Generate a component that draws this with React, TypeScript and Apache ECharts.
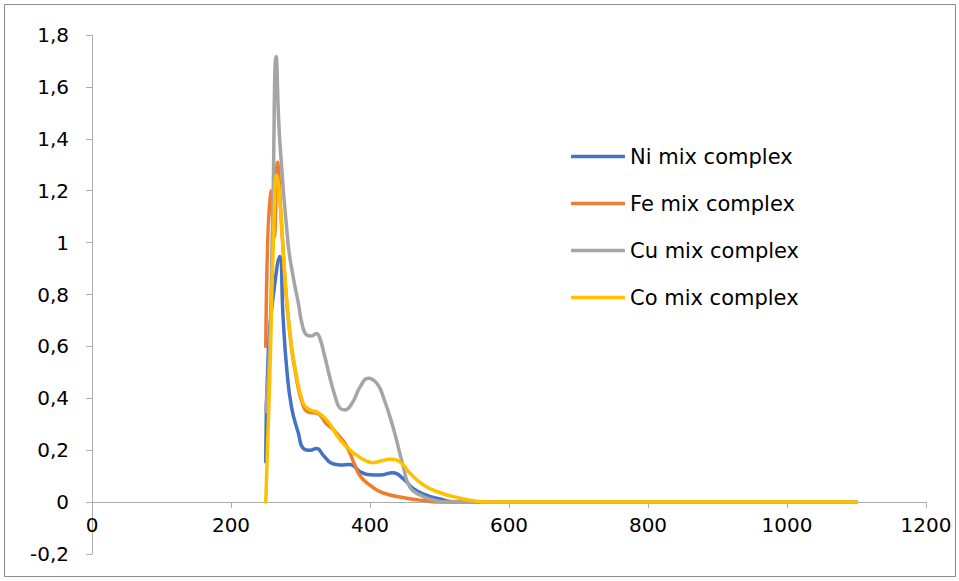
import React, { useEffect, useRef } from "react";
import * as echarts from "echarts";

const seriesNames = ["Ni mix complex", "Fe mix complex", "Cu mix complex", "Co mix complex"];
const seriesColors = ["#4472C4", "#ED7D31", "#A5A5A5", "#FFC000"];

const niData: number[][] = [
  [250, 0.155], [254, 0.6], [262, 0.82], [270, 0.946], [275, 0.71], [280, 0.52], [287, 0.367],
  [297, 0.265], [304, 0.207], [314, 0.2], [323, 0.207], [333, 0.18], [345, 0.149], [357, 0.143],
  [371, 0.145], [386, 0.117], [400, 0.105], [414, 0.104], [433, 0.113], [448, 0.09], [462, 0.053],
  [481, 0.027], [501, 0.012], [515, 0.002], [530, 0], [600, 0], [1100, 0],
];

const feData: number[][] = [
  [250, 0.6], [257, 1.2], [262, 1.02], [267, 1.31], [271, 1.15], [275, 0.97], [280, 0.78],
  [286, 0.62], [292, 0.51], [304, 0.37], [314, 0.345], [323, 0.343], [338, 0.3], [347, 0.28],
  [357, 0.25], [364, 0.226], [371, 0.19], [377, 0.15], [386, 0.1], [400, 0.065], [418, 0.036],
  [453, 0.015], [480, 0.005], [500, 0], [600, 0], [1100, 0],
];

const cuData: number[][] = [
  [250, 0.35], [255, 0.56], [260, 1.1], [265, 1.717], [270, 1.4], [282, 1.0], [290, 0.86],
  [297, 0.766], [302, 0.689], [309, 0.644], [316, 0.64], [323, 0.65], [328, 0.63], [335, 0.56],
  [342, 0.483], [350, 0.406], [357, 0.361], [364, 0.355], [374, 0.38], [386, 0.445],
  [397.5, 0.477], [410, 0.457], [419, 0.406], [433, 0.29], [448, 0.136], [457, 0.059],
  [472, 0.027], [491, 0.008], [510, 0], [600, 0], [1100, 0],
];

const coData: number[][] = [
  [250, 0], [256, 0.5], [261, 1.0], [266, 1.26], [270.5, 1.16], [275, 0.97], [280, 0.78],
  [286, 0.62], [292, 0.52], [304, 0.38], [314, 0.355], [323, 0.348], [338, 0.316], [357, 0.24],
  [376, 0.19], [395, 0.158], [405, 0.152], [418, 0.16], [429, 0.165], [443, 0.155], [458, 0.11],
  [477, 0.066], [501, 0.036], [525, 0.018], [554, 0.003], [570, 0], [600, 0], [1100, 0],
];

const allData = [niData, feData, cuData, coData];

const xMin = 0;
const xMax = 1200;
const xStep = 200;
const yMin = -0.2;
const yMax = 1.8;
const yStep = 0.2;

const FONT = "DejaVu Sans";
const AXIS_COLOR = "#ADADAD";
const GRID = { left: 92, right: 33, top: 35, bottom: 27 };
const PLOT_H = 581 - GRID.top - GRID.bottom;

export default function App() {
  const ref = useRef<HTMLDivElement>(null);
  useEffect(() => {
    const chart = echarts.init(ref.current!, null, { renderer: "svg" });
    // distance (px) from the bottom of the plot up to the y = 0 line
    const zeroOffset = ((0 - yMin) / (yMax - yMin)) * PLOT_H;
    chart.setOption({
      animation: false,
      backgroundColor: "#ffffff",
      grid: { ...GRID, containLabel: false },
      graphic: [
        {
          type: "rect",
          shape: { x: 4.5, y: 4.5, width: 951, height: 572 },
          style: { fill: "none", stroke: "#8C8C8C", lineWidth: 1 },
          silent: true,
        },
      ],
      legend: {
        orient: "vertical",
        left: 571,
        top: 146,
        padding: 0,
        itemWidth: 54,
        itemHeight: 3.5,
        itemGap: 26,
        icon: "roundRect",
        data: seriesNames,
        textStyle: { fontSize: 21, fontFamily: FONT, color: "#000" },
      },
      xAxis: [
        {
          type: "value",
          position: "bottom",
          offset: -zeroOffset,
          min: xMin,
          max: xMax,
          interval: xStep,
          axisLine: { show: true, onZero: false, lineStyle: { color: AXIS_COLOR, width: 1 } },
          axisTick: { show: true, length: 6, lineStyle: { color: AXIS_COLOR } },
          axisLabel: {
            margin: 13,
            fontSize: 20,
            fontFamily: FONT,
            color: "#000",
            formatter: (v: number) => String(v),
          },
          splitLine: { show: false },
        },
      ],
      yAxis: {
        type: "value",
        min: yMin,
        max: yMax,
        interval: yStep,
        axisLine: { show: true, onZero: false, lineStyle: { color: AXIS_COLOR, width: 1 } },
        axisTick: { show: true, length: 6, lineStyle: { color: AXIS_COLOR } },
        axisLabel: {
          margin: 23,
          fontSize: 20,
          fontFamily: FONT,
          color: "#000",
          formatter: (v: number) => String(Math.round(v * 10) / 10).replace(".", ","),
        },
        splitLine: { show: false },
      },
      series: seriesNames.map((name, i) => ({
        name,
        type: "line",
        symbol: "none",
        smooth: 0.5,
        data: allData[i],
        lineStyle: { width: 3.5, color: seriesColors[i], cap: "round", join: "round" },
        itemStyle: { color: seriesColors[i] },
      })),
    });
    return () => chart.dispose();
  }, []);
  return (
    <div
      ref={ref}
      style={{ position: "fixed", left: 0, top: 0, width: 959, height: 581, background: "#fff" }}
    />
  );
}
